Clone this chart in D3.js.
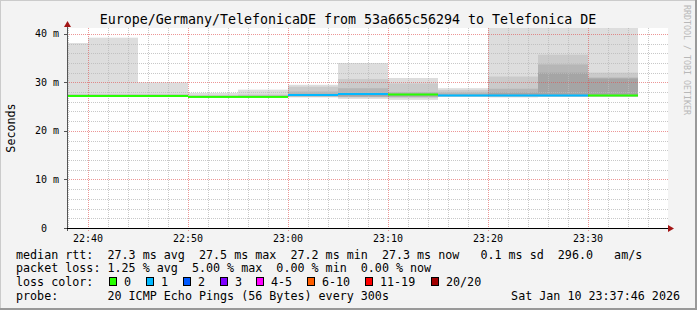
<!DOCTYPE html>
<html>
<head>
<meta charset="utf-8">
<script src="https://cdn.jsdelivr.net/npm/d3@7"></script>
<style>
  body { margin: 0; background: #f3f3f3; }
  text { font-family: "DejaVu Sans Mono", monospace; fill: #000; white-space: pre; }
</style>
</head>
<body>
<div id="chart"></div>
<script>
// step end times (each step covers the previous 300s)
const stepEnds = ["22:40", "22:45", "22:50", "22:55", "23:00", "23:05",
                  "23:10", "23:15", "23:20", "23:25", "23:30", "23:35"];
// median rtt (ms) and lost pings (of 20) per step
const median   = [27.2, 27.2, 27.2, 27.0, 27.0, 27.4, 27.6, 27.5, 27.3, 27.3, 27.3, 27.3];
const lossCount = [0, 0, 0, 0, 0, 1, 1, 0, 1, 1, 1, 0];
// smoke layers, outer to inner (ms)
const outerLo = [27.0, 27.0, 27.1, 26.9, 26.9, 26.9, 26.6, 26.4, 27.0, 26.9, 27.0, 27.0];
const outerHi = [38.1, 39.2, 30.0, 27.8, 28.5, 29.5, 34.0, 30.9, 28.8, 55.2, 47.8, 44.6];
const midLo   = [27.1, 27.1, 27.1, 27.0, 27.0, 27.0, 26.9, 26.8, 27.1, 27.0, 27.0, 27.0];
const midHi   = [27.6, 27.6, 27.6, 27.4, 27.5, 29.1, 30.7, 29.8, 28.4, 31.2, 35.7, 32.0];
const innerLo = [27.1, 27.1, 27.1, 27.0, 27.0, 27.1, 27.0, 27.0, 27.1, 27.1, 27.1, 27.1];
const innerHi = [27.4, 27.4, 27.4, 27.2, 27.3, 28.1, 28.8, 28.0, 27.9, 28.7, 33.7, 31.0];
const coreLo  = [27.1, 27.1, 27.1, 27.0, 27.0, 27.2, 27.1, 27.1, 27.2, 27.2, 27.2, 27.2];
const coreHi  = [27.3, 27.3, 27.3, 27.1, 27.1, 27.6, 27.8, 27.7, 27.5, 27.9, 32.0, 30.8];

const yTicks = [0, 10, 20, 30, 40];
const lossLabels = ["0", "1", "2", "3", "4-5", "6-10", "11-19", "20/20"];
const lossColors = ["#26ff00", "#00b8ff", "#0059ff", "#7e00ff", "#ff00ff", "#ff5e00", "#ff0000", "#a10000"];
const rttLine  = "median rtt:  27.3 ms avg  27.5 ms max  27.2 ms min  27.3 ms now   0.1 ms sd  296.0   am/s";
const lossLine = "packet loss: 1.25 % avg  5.00 % max  0.00 % min  0.00 % now";
const titleText = "Europe/Germany/TelefonicaDE from 53a665c56294 to Telefonica DE";
const probeLine = "probe:       20 ICMP Echo Pings (56 Bytes) every 300s";
const stampText = "Sat Jan 10 23:37:46 2026";

// layout
const W = 697, H = 310;
const plot = { left: 67, right: 668, top: 28, bottom: 228 };
const swatchX = [109, 146, 183, 220, 256, 307, 365, 431];

const day = "2026-01-10T";
const parse = s => new Date(day + s + ":00");
const ends = stepEnds.map(parse);

const x = d3.scaleTime()
    .domain([new Date(day + "22:37:54"), new Date(day + "23:38:00")])
    .range([plot.left, plot.right]);
const y = d3.scaleLinear()
    .domain([0, 41.2])
    .range([plot.bottom, plot.top]);

const svg = d3.select("#chart").append("svg")
    .attr("width", W).attr("height", H);

// frame with shading
svg.append("rect").attr("width", W).attr("height", H).attr("fill", "#f3f3f3");
svg.append("path").attr("d", `M0,${H} V0 H${W}`).attr("stroke", "#cbcbcb").attr("stroke-width", 2).attr("fill", "none");
svg.append("path").attr("d", `M${W},0 V${H} H0`).attr("stroke", "#999").attr("stroke-width", 4).attr("fill", "none");

// canvas
svg.append("rect")
    .attr("x", plot.left).attr("y", plot.top)
    .attr("width", plot.right - plot.left).attr("height", plot.bottom - plot.top)
    .attr("fill", "#fff");

svg.append("clipPath").attr("id", "clip")
  .append("rect")
    .attr("x", plot.left).attr("y", plot.top)
    .attr("width", plot.right - plot.left).attr("height", plot.bottom - plot.top);

// smoke
const layers = [
  { lo: outerLo, hi: outerHi, color: "#dddddd" },
  { lo: midLo,   hi: midHi,   color: "#cacaca" },
  { lo: innerLo, hi: innerHi, color: "#b6b6b6" },
  { lo: coreLo,  hi: coreHi,  color: "#a5a5a5" }
];
const smoke = svg.append("g").attr("clip-path", "url(#clip)");
layers.forEach(L => {
  smoke.selectAll(null)
    .data(ends)
    .enter().append("rect")
      .attr("x", d => x(d3.timeMinute.offset(d, -5)))
      .attr("width", d => x(d) - x(d3.timeMinute.offset(d, -5)))
      .attr("y", (d, i) => y(L.hi[i]))
      .attr("height", (d, i) => y(L.lo[i]) - y(L.hi[i]))
      .attr("fill", L.color);
});

// grid
const grid = svg.append("g").attr("fill", "none");
const minorY = d3.range(2, 41, 2).filter(v => v % 10 !== 0);
const minorX = d3.timeMinute.every(2).range(x.domain()[0], x.domain()[1]).filter(d => d.getMinutes() % 10 !== 0);
grid.selectAll(".hmin").data(minorY).enter().append("line")
    .attr("x1", plot.left).attr("x2", plot.right)
    .attr("y1", d => Math.round(y(d)) + 0.5).attr("y2", d => Math.round(y(d)) + 0.5)
    .attr("stroke", "#bababa").attr("stroke-dasharray", "1,1").attr("opacity", 0.8);
grid.selectAll(".vmin").data(minorX).enter().append("line")
    .attr("x1", d => Math.round(x(d)) + 0.5).attr("x2", d => Math.round(x(d)) + 0.5)
    .attr("y1", plot.top).attr("y2", plot.bottom)
    .attr("stroke", "#bababa").attr("stroke-dasharray", "1,1").attr("opacity", 0.8);
grid.selectAll(".hmaj").data(yTicks.filter(v => v > 0)).enter().append("line")
    .attr("x1", plot.left).attr("x2", plot.right)
    .attr("y1", d => Math.round(y(d)) + 0.5).attr("y2", d => Math.round(y(d)) + 0.5)
    .attr("stroke", "#e05050").attr("stroke-dasharray", "1,1").attr("opacity", 0.6);
const majorX = d3.timeMinute.every(10).range(x.domain()[0], x.domain()[1]);
grid.selectAll(".vmaj").data(majorX).enter().append("line")
    .attr("x1", d => Math.round(x(d)) + 0.5).attr("x2", d => Math.round(x(d)) + 0.5)
    .attr("y1", plot.top).attr("y2", plot.bottom + 3)
    .attr("stroke", "#e05050").attr("stroke-dasharray", "1,1").attr("opacity", 0.6);

// median line, coloured by loss
svg.append("g").attr("clip-path", "url(#clip)")
  .selectAll("rect")
  .data(ends)
  .enter().append("rect")
    .attr("x", d => x(d3.timeMinute.offset(d, -5)))
    .attr("width", d => x(d) - x(d3.timeMinute.offset(d, -5)))
    .attr("y", (d, i) => y(median[i]) - 1)
    .attr("height", 2)
    .attr("fill", (d, i) => lossColors[Math.min(lossCount[i], 3)]);

// axes
svg.append("line")
    .attr("x1", plot.left + 0.5).attr("x2", plot.left + 0.5)
    .attr("y1", plot.bottom + 3).attr("y2", plot.top - 5)
    .attr("stroke", "#555");
svg.append("line")
    .attr("x1", plot.left - 3).attr("x2", plot.right + 2)
    .attr("y1", plot.bottom + 0.5).attr("y2", plot.bottom + 0.5)
    .attr("stroke", "#000");
svg.append("path")
    .attr("d", `M${plot.left - 3},${plot.top - 1} L${plot.left + 0.5},${plot.top - 7} L${plot.left + 4},${plot.top - 1} Z`)
    .attr("fill", "#a31515");
svg.append("path")
    .attr("d", `M${plot.right},${plot.bottom - 3} L${plot.right + 6},${plot.bottom + 0.5} L${plot.right},${plot.bottom + 4} Z`)
    .attr("fill", "#a31515");

// y tick labels
svg.append("g").selectAll("text").data(yTicks).enter().append("text")
    .attr("x", 59).attr("y", d => y(d) + 3.5)
    .attr("text-anchor", "end")
    .style("font-size", "10px")
    .text(d => d === 0 ? "0  " : d + " m");
svg.append("g").selectAll("line").data(yTicks).enter().append("line")
    .attr("x1", plot.left - 3).attr("x2", plot.left)
    .attr("y1", d => Math.round(y(d)) + 0.5).attr("y2", d => Math.round(y(d)) + 0.5)
    .attr("stroke", "#555");

// x tick labels
svg.append("g").selectAll("text").data(majorX).enter().append("text")
    .attr("x", d => x(d)).attr("y", 242)
    .attr("text-anchor", "middle")
    .style("font-size", "10px")
    .text(d3.timeFormat("%H:%M"));

// titles
svg.append("text").attr("x", 348).attr("y", 24).attr("text-anchor", "middle")
    .style("font-size", "13.3px").text(titleText);
svg.append("text").attr("transform", "translate(15,128) rotate(-90)")
    .attr("text-anchor", "middle").style("font-size", "11.7px").text("Seconds");
svg.append("text").attr("transform", "translate(684,5) rotate(90)")
    .style("font-size", "8.3px").style("fill", "#b8b8b8")
    .text("RRDTOOL / TOBI OETIKER");

// legend
const leg = svg.append("g").style("font-size", "11.7px");
const rows = [258.5, 272, 286, 299.5];
leg.append("text").attr("x", 16).attr("y", rows[0]).text(rttLine);
leg.append("text").attr("x", 16).attr("y", rows[1]).text(lossLine);
leg.append("text").attr("x", 16).attr("y", rows[2]).text("loss color:");
lossLabels.forEach((lab, i) => {
  leg.append("rect")
    .attr("x", swatchX[i] + 0.5).attr("y", rows[2] - 8.5)
    .attr("width", 7).attr("height", 8)
    .attr("fill", lossColors[i]).attr("stroke", "#000");
  leg.append("text").attr("x", swatchX[i] + 15).attr("y", rows[2]).text(lab);
});
leg.append("text").attr("x", 16).attr("y", rows[3]).text(probeLine);
leg.append("text").attr("x", 680).attr("y", rows[3]).attr("text-anchor", "end").text(stampText);
</script>
</body>
</html>
